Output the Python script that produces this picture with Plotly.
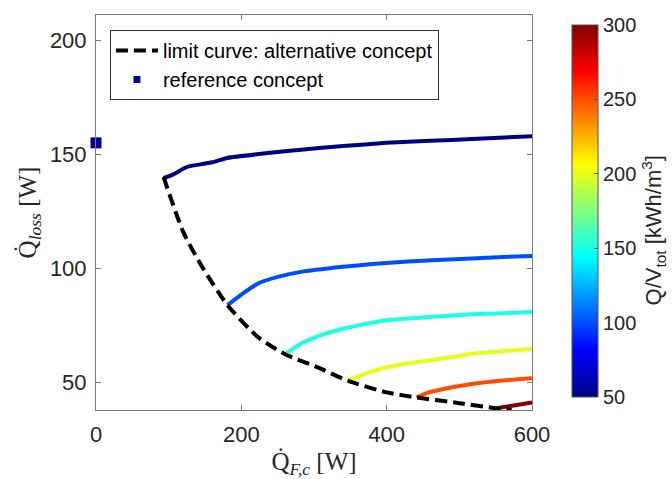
import plotly.graph_objects as go
from plotly.colors import sample_colorscale

# ---- data ----
limit_x = [93, 120, 146, 181, 223, 261, 305, 346, 400, 441, 500, 547, 572]
limit_y = [140, 116, 100.7, 83.9, 69.9, 62.3, 56.7, 50.9, 45.7, 43.5, 41.0, 38.9, 38.0]

curve_values = [50, 100, 150, 200, 250, 300]  # Q/V_tot [kWh/m^3]
curve_x = [
    [93, 105, 122, 128, 160, 181, 230, 282, 340, 400, 460, 517, 600],
    [181, 199, 223, 250, 282, 340, 380, 429, 470, 517, 560, 600],
    [261, 282, 310, 340, 370, 400, 458, 517, 560, 600],
    [346, 370, 400, 430, 458, 490, 517, 560, 600],
    [441, 458, 480, 517, 560, 600],
    [553, 575, 600],
]
curve_y = [
    [139.6, 141, 144, 144.7, 146.5, 148.4, 150.3, 152, 153.6, 155, 155.9, 156.7, 157.9],
    [83.9, 88.3, 93.4, 96.3, 98.5, 100.7, 101.9, 103, 103.7, 104.4, 105, 105.4],
    [62.6, 67, 70.8, 73.6, 75.6, 77.3, 78.7, 79.9, 80.4, 80.9],
    [50.9, 53.8, 56.7, 58.5, 59.7, 61.2, 62.6, 63.8, 64.8],
    [43.5, 45.7, 47.3, 49.4, 50.9, 51.9],
    [38.9, 40.0, 41.3],
]

ref_x = [0]
ref_y = [155]
ref_value = 55

x_ticks = [0, 200, 400, 600]
y_ticks = [50, 100, 150, 200]
cbar_ticks = [50, 100, 150, 200, 250, 300]
cmin, cmax = 50, 300

# MATLAB-style jet colormap
jet = [
    [0.0, "rgb(0,0,132)"],
    [0.125, "rgb(0,0,255)"],
    [0.375, "rgb(0,255,255)"],
    [0.625, "rgb(255,255,0)"],
    [0.875, "rgb(255,0,0)"],
    [1.0, "rgb(128,0,0)"],
]


def jet_color(v):
    return sample_colorscale(jet, [(v - cmin) / (cmax - cmin)])[0]


SANS = "Liberation Sans, Arial, sans-serif"
SERIF = "Liberation Serif, Times New Roman, serif"
TXT = "#262626"

fig = go.Figure()

for v, xs, ys in zip(curve_values, curve_x, curve_y):
    fig.add_trace(go.Scatter(
        x=xs, y=ys, mode="lines", showlegend=False,
        line=dict(color=jet_color(v), width=4, shape="spline", smoothing=0.6),
        hoverinfo="skip",
    ))

fig.add_trace(go.Scatter(
    x=limit_x, y=limit_y, mode="lines",
    name="limit curve: alternative concept",
    line=dict(color="black", width=4, dash="12px,6px", shape="spline", smoothing=0.6),
))

# reference concept point (plotted) + small legend swatch
fig.add_trace(go.Scatter(
    x=ref_x, y=ref_y, mode="markers", name="reference concept", showlegend=False,
    legendgroup="ref",
    marker=dict(symbol="square", size=11, color=jet_color(ref_value)),
    cliponaxis=False,
))
fig.add_trace(go.Scatter(
    x=[None], y=[None], mode="markers", name="reference concept", legendgroup="ref",
    marker=dict(symbol="square", size=7, color=jet_color(ref_value)),
))

# colorbar carrier
fig.add_trace(go.Scatter(
    x=[None], y=[None], mode="markers", showlegend=False,
    marker=dict(
        color=[cmin], cmin=cmin, cmax=cmax, colorscale=jet, showscale=True,
        colorbar=dict(
            x=1.0688, xanchor="left", xref="paper",
            y=0.504, yanchor="middle", len=0.992, lenmode="fraction",
            thickness=26, thicknessmode="pixels",
            outlinecolor="#555555", outlinewidth=1,
            tickvals=cbar_ticks, ticks="inside", ticklen=4, tickcolor="#555555",
            tickfont=dict(family=SANS, size=20, color=TXT),
        ),
    ),
))

# colorbar label
fig.add_annotation(
    text="Q/V<sub>tot</sub> [kWh/m<sup>3</sup>]", textangle=-90,
    xref="paper", yref="paper", x=1.278, y=0.455, xanchor="center", yanchor="middle",
    showarrow=False, font=dict(family=SANS, size=22, color=TXT),
)

axis_common = dict(
    showgrid=False, zeroline=False, showline=True, linecolor="#7a7a7a", linewidth=1,
    mirror="allticks", ticks="inside", ticklen=5, tickcolor="#7a7a7a",
    tickfont=dict(family=SANS, size=22, color=TXT),
)

fig.update_xaxes(
    range=[0, 600], tickvals=x_ticks, ticklabelstandoff=5,
    title=dict(text="Q̇<sub><i>F,c</i></sub> [W]", standoff=6,
               font=dict(family=SERIF, size=25, color=TXT)),
    **axis_common,
)
fig.update_yaxes(
    range=[38, 211], tickvals=y_ticks, ticklabelstandoff=4,
    title=dict(text="Q̇<sub><i>loss</i></sub> [W]", standoff=6,
               font=dict(family=SERIF, size=25, color=TXT)),
    **axis_common,
)

fig.update_layout(
    width=672, height=479,
    margin=dict(l=96, r=140, t=15, b=69, autoexpand=False),
    paper_bgcolor="white", plot_bgcolor="white",
    legend=dict(
        x=0.032, y=0.962, xanchor="left", yanchor="top",
        bgcolor="white", bordercolor="#333333", borderwidth=1,
        font=dict(family=SANS, size=20, color="black"),
        tracegroupgap=0, itemwidth=42,
    ),
)

fig.write_html("out.html")
